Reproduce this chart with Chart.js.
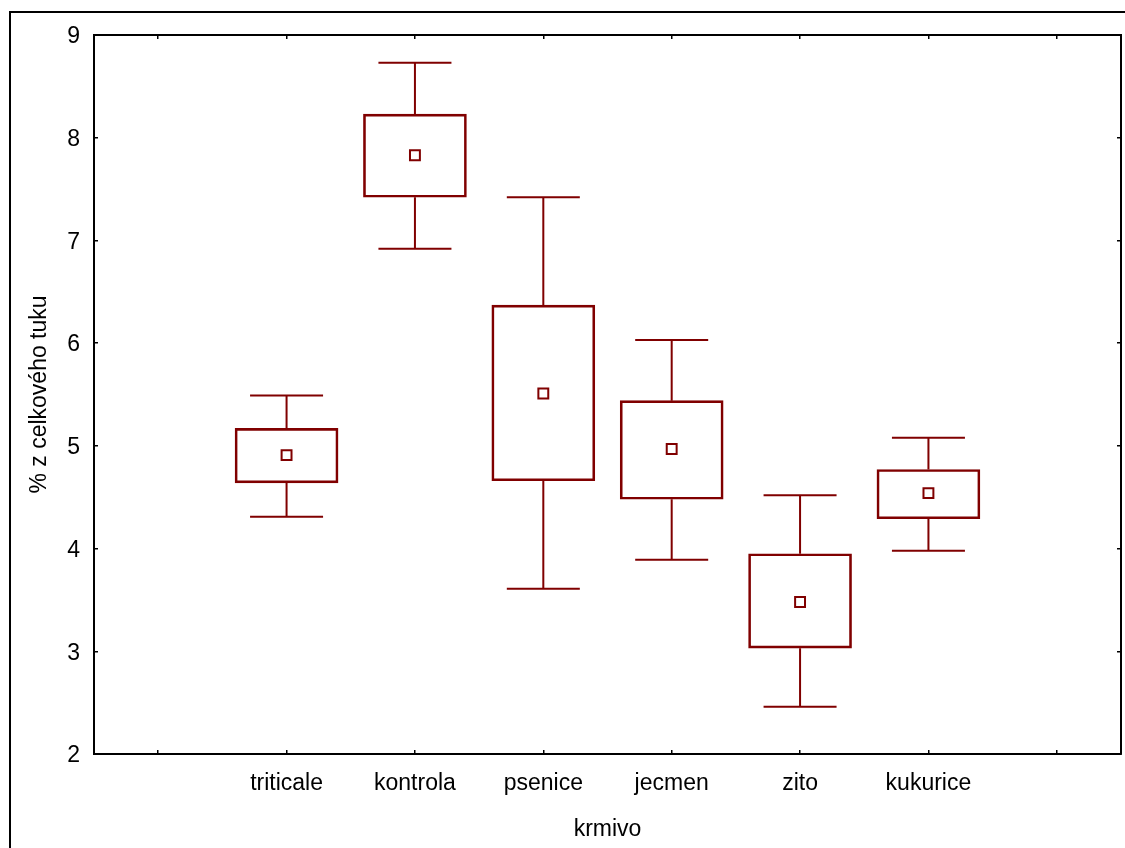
<!DOCTYPE html>
<html>
<head>
<meta charset="utf-8">
<script src="https://cdn.jsdelivr.net/npm/chart.js@4.4.1/dist/chart.umd.min.js"></script>
<style>
  html, body { margin: 0; padding: 0; background: #fff; overflow: hidden; }
  canvas { display: block; }
</style>
</head>
<body>
<canvas id="c" width="1125" height="848"></canvas>
<script>
// Feed groups, left to right
const categories = ['triticale', 'kontrola', 'psenice', 'jecmen', 'zito', 'kukurice'];
// Category axis carries an empty slot at each end
const axisLabels = ['', ...categories, ''];

// % of total fat per feed group
const meanValues  = [4.91, 7.83, 5.51, 4.97, 3.48, 4.54];
const boxLow      = [4.64, 7.42, 4.66, 4.48, 3.03, 4.29];
const boxHigh     = [5.17, 8.23, 6.37, 5.44, 3.95, 4.77];
const whiskerLow  = [4.31, 6.92, 3.61, 3.89, 2.46, 3.98];
const whiskerHigh = [5.49, 8.73, 7.42, 6.03, 4.52, 5.08];

// Value axis range
const yMin = 2, yMax = 9, yStep = 1;

const RED = '#800000';
const FONT = { family: "'Liberation Sans', Arial, sans-serif", size: 23 };

const pad = arr => [null, ...arr, null];

// Whiskers: stem from box edge to extreme, with a horizontal cap
const whiskerPlugin = {
  id: 'whiskers',
  afterDatasetsDraw(chart) {
    const { ctx, scales: { x, y } } = chart;
    const capHalf = 36.5;
    ctx.save();
    ctx.strokeStyle = RED;
    ctx.lineWidth = 2;
    categories.forEach((_, i) => {
      const px = x.getPixelForValue(i + 1);
      const pairs = [[boxHigh[i], whiskerHigh[i]], [boxLow[i], whiskerLow[i]]];
      pairs.forEach(([from, to]) => {
        const y0 = y.getPixelForValue(from);
        const y1 = y.getPixelForValue(to);
        ctx.beginPath();
        ctx.moveTo(px, y0);
        ctx.lineTo(px, y1);
        ctx.moveTo(px - capHalf, y1);
        ctx.lineTo(px + capHalf, y1);
        ctx.stroke();
      });
    });
    ctx.restore();
  }
};

// Outer frame around the graph page
const framePlugin = {
  id: 'frame',
  beforeDraw(chart) {
    const ctx = chart.ctx;
    ctx.save();
    ctx.fillStyle = '#fff';
    ctx.fillRect(0, 0, chart.width, chart.height);
    ctx.strokeStyle = '#000';
    ctx.lineWidth = 2;
    ctx.strokeRect(10, 12, 2000, 2000);
    ctx.restore();
  }
};

const tickGrid = {
  drawOnChartArea: false,
  drawTicks: true,
  tickLength: -4,
  color: '#000',
  lineWidth: 1.5
};
const axisBorder = { display: true, color: '#000', width: 2 };

new Chart(document.getElementById('c'), {
  data: {
    labels: axisLabels,
    datasets: [
      {
        type: 'bar',
        label: 'SE',
        data: pad(categories.map((_, i) => [boxLow[i], boxHigh[i]])),
        backgroundColor: 'rgba(0,0,0,0)',
        borderColor: RED,
        borderWidth: 2,
        borderSkipped: false,
        barThickness: 103,
        xAxisID: 'x',
        yAxisID: 'y'
      },
      {
        type: 'line',
        label: 'Průměr',
        data: pad(meanValues),
        showLine: false,
        borderWidth: 0,
        pointStyle: 'rect',
        // empty end slots get no marker (and no layout overflow)
        pointRadius: c => (c.raw == null ? 0 : 7),
        pointBorderWidth: 2,
        pointBackgroundColor: '#fff',
        pointBorderColor: RED,
        xAxisID: 'x',
        yAxisID: 'y'
      }
    ]
  },
  options: {
    responsive: false,
    animation: false,
    devicePixelRatio: 1,
    layout: { padding: 0 },
    plugins: { legend: { display: false }, tooltip: { enabled: false } },
    scales: {
      x: {
        type: 'category',
        position: 'bottom',
        offset: true,
        grid: { ...tickGrid, offset: false },
        border: axisBorder,
        ticks: { color: '#000', font: FONT, padding: 20, maxRotation: 0, autoSkip: false },
        title: { display: true, text: 'krmivo', color: '#000', font: FONT, padding: 5 },
        afterFit: s => { s.height = 94; s.paddingLeft = 0; s.paddingRight = 0; }
      },
      xTop: {
        type: 'category',
        position: 'top',
        labels: axisLabels,
        offset: true,
        grid: { ...tickGrid, offset: false },
        border: axisBorder,
        ticks: { display: false },
        afterFit: s => { s.height = 35; s.paddingLeft = 0; s.paddingRight = 0; }
      },
      y: {
        type: 'linear',
        position: 'left',
        min: yMin,
        max: yMax,
        grid: tickGrid,
        border: axisBorder,
        ticks: { stepSize: yStep, color: '#000', font: FONT, padding: 18, labelOffset: 2 },
        title: { display: true, text: '% z celkového tuku', color: '#000', font: FONT, padding: 26 },
        afterFit: s => { s.width = 94; }
      },
      yRight: {
        type: 'linear',
        position: 'right',
        min: yMin,
        max: yMax,
        grid: tickGrid,
        border: axisBorder,
        ticks: { display: false, stepSize: yStep },
        afterFit: s => { s.width = 4; }
      }
    }
  },
  plugins: [framePlugin, whiskerPlugin]
});
</script>
</body>
</html>
